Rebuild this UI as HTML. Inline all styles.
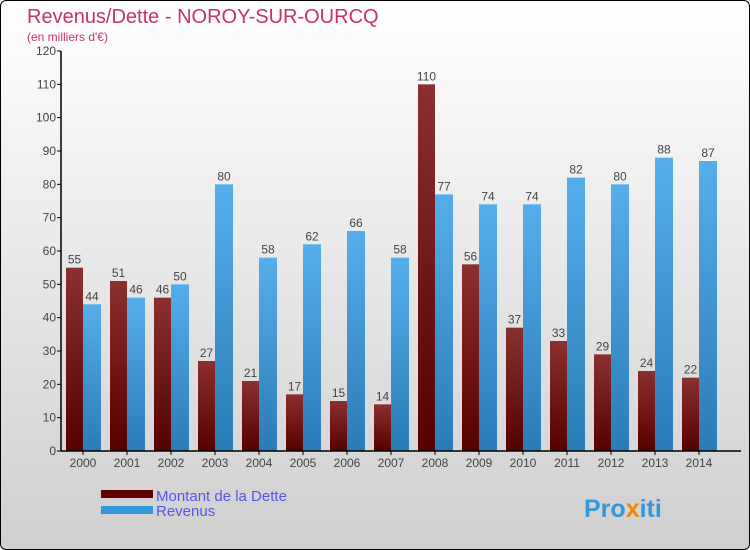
<!DOCTYPE html>
<html><head><meta charset="utf-8"><style>
body{margin:0}
#wrap{position:relative;width:748px;height:548px;border:1px solid #000;border-radius:6px;overflow:hidden;background:linear-gradient(#ffffff,#cfcfcf);font-family:"Liberation Sans",sans-serif}
svg{position:absolute;left:0;top:0}
</style></head><body>
<div id="wrap">
<svg width="750" height="550" id="chart">
<defs>
<linearGradient id="gd" x1="0" y1="0" x2="0" y2="1"><stop offset="0" stop-color="#8b3030"/><stop offset="1" stop-color="#560000"/></linearGradient>
<linearGradient id="gr" x1="0" y1="0" x2="0" y2="1"><stop offset="0" stop-color="#55aeea"/><stop offset="1" stop-color="#2a7cb8"/></linearGradient>
</defs>
<text x="26" y="22" font-size="20" fill="#c8336a">Revenus/Dette - NOROY-SUR-OURCQ</text>
<text x="26" y="40" font-size="12" fill="#c8336a">(en milliers d'€)</text>
<g id="g"></g>
<rect x="100" y="489" width="52" height="8" fill="#600000"/>
<rect x="100" y="505" width="52" height="8" fill="#3399dd"/>
<text x="155" y="500" font-size="15" fill="#5555ee">Montant de la Dette</text>
<text x="155" y="515" font-size="15" fill="#5555ee">Revenus</text>
<text x="583" y="516" font-size="25" font-weight="bold" fill="#3399dd">Pro<tspan fill="#ee8800">x</tspan>iti</text>
</svg>
</div>
<script>
const years=["2000","2001","2002","2003","2004","2005","2006","2007","2008","2009","2010","2011","2012","2013","2014"];
const dette=[55,51,46,27,21,17,15,14,110,56,37,33,29,24,22];
const revenus=[44,46,50,80,58,62,66,58,77,74,74,82,80,88,87];
const ticks=[0,10,20,30,40,50,60,70,80,90,100,110,120];
const ns="http://www.w3.org/2000/svg";
const g=document.getElementById('g');
const y=v=>450-v*400/120;
const xc=i=>82+i*44;
function el(t,a,txt){const e=document.createElementNS(ns,t);for(const k in a)e.setAttribute(k,a[k]);if(txt!==undefined)e.textContent=txt;g.appendChild(e);return e;}
ticks.forEach(t=>{
 const l=el('line',{x1:56,x2:60,y1:y(t),y2:y(t),stroke:'#000'});
 
 
 const tx=el('text',{x:55,y:y(t)+4,'font-size':12,fill:'#444','text-anchor':'end'},t);
 
 
});
years.forEach((yr,i)=>{
 const c=xc(i);
 const b1=el('rect',{x:c-17,y:y(dette[i]),width:17,height:450-y(dette[i]),fill:'url(#gd)'});
 
 
 const b2=el('rect',{x:c,y:y(revenus[i]),width:18,height:450-y(revenus[i]),fill:'url(#gr)'});
 
 
 const t1=el('text',{x:c-8.5,y:y(dette[i])-4,'font-size':12,fill:'#444','text-anchor':'middle'},dette[i]);
 
 
 const t2=el('text',{x:c+9,y:y(revenus[i])-4,'font-size':12,fill:'#444','text-anchor':'middle'},revenus[i]);
 
 
 const xt=el('line',{x1:c,x2:c,y1:450,y2:454,stroke:'#000'});
 
 
 const xl=el('text',{x:c,y:466,'font-size':12,fill:'#444','text-anchor':'middle'},yr);
 
 
});
const ya=el('line',{x1:60,x2:60,y1:50,y2:450,stroke:'#000','stroke-width':1.5});


const xa=el('line',{x1:60,x2:740,y1:450,y2:450,stroke:'#000','stroke-width':1.5});


</script>
</body></html>
